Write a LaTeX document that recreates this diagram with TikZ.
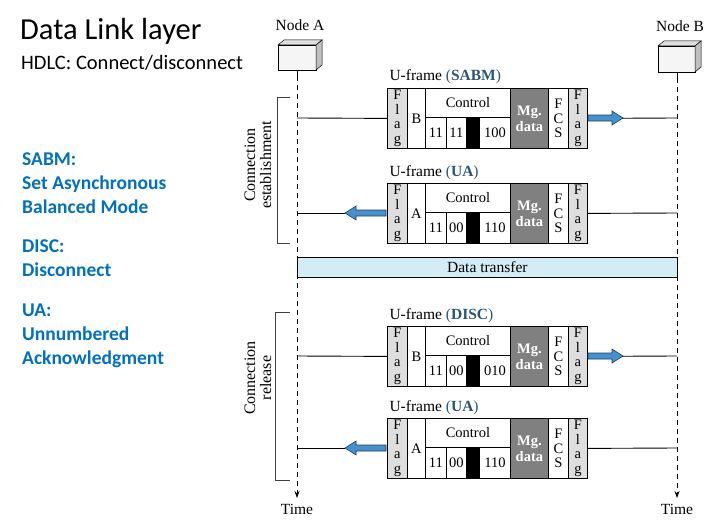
\documentclass[tikz,border=0pt]{standalone}
\usepackage{fontspec}
\setmainfont{Liberation Serif}
\newfontfamily\calfont{Carlito}
\usetikzlibrary{arrows.meta}
\definecolor{tblue}{RGB}{0,112,192}
\definecolor{fblue}{RGB}{40,85,120}
\definecolor{flaggray}{RGB}{222,222,222}
\definecolor{mggray}{RGB}{128,128,128}
\definecolor{arrfill}{RGB}{70,145,205}
\definecolor{arrline}{RGB}{30,60,100}
\definecolor{dtblue}{RGB}{212,236,246}
\newcommand\uframe[7]{%
  \node[lbl, anchor=base west] (#1-lbl) at (386,#2-7) {U-frame \textcolor{fblue}{(\textbf{#7})}};
  \node[fld, fill=flaggray, minimum width=20pt, minimum height=60pt] (#1-fl) at (387,#2) {F\\l\\a\\g};
  \node[fld, minimum width=18pt, minimum height=60pt] (#1-ad) at (407,#2) {#3};
  \node[fld, minimum width=85pt, minimum height=29pt] (#1-ct) at (425,#2) {Control};
  \node[fld, minimum width=21pt, minimum height=31pt] (#1-c1) at (425,#2+29) {#4};
  \node[fld, minimum width=20pt, minimum height=31pt] (#1-c2) at (446,#2+29) {#5};
  \node[fld, fill=black, minimum width=13pt, minimum height=31pt] (#1-bk) at (466,#2+29) {};
  \node[fld, fill=mggray, text=white, minimum width=38pt, minimum height=60pt, font=\bfseries\fontsize{14.5}{16}\selectfont] (#1-mg) at (510,#2) {Mg.\\data};
  \node[fld, minimum width=31pt, minimum height=31pt] (#1-c3) at (479,#2+29) {#6};
  \node[fld, minimum width=20pt, minimum height=60pt] (#1-fc) at (548,#2) {F\\C\\S};
  \node[fld, fill=flaggray, minimum width=19pt, minimum height=60pt] (#1-fr) at (568,#2) {F\\l\\a\\g};
}
\newcommand\rarrow[3]{%
  \filldraw[arrst] (#1,#3-3) -- (#2-11,#3-3) -- (#2-11,#3-7) -- (#2,#3) -- (#2-11,#3+7) -- (#2-11,#3+3) -- (#1,#3+3) -- cycle;}
\newcommand\larrow[3]{%
  \filldraw[arrst] (#1,#3-3) -- (#2+11,#3-3) -- (#2+11,#3-7) -- (#2,#3) -- (#2+11,#3+7) -- (#2+11,#3+3) -- (#1,#3+3) -- cycle;}
\begin{document}
\begin{tikzpicture}[x=1pt,y=-1pt,
  fld/.style={draw, thick, anchor=north west, inner sep=0pt, align=center, font=\fontsize{14.5}{14.5}\selectfont},
  lbl/.style={font=\fontsize{15.5}{17}\selectfont},
  arrst/.style={fill=arrfill, draw=arrline, line width=0.6pt},
  conn/.style={line width=0.9pt},
  bluetxt/.style={anchor=base west, text=tblue, font=\calfont\bfseries\fontsize{19.5}{21}\selectfont},
  dashline/.style={line width=0.7pt, dash pattern=on 5pt off 4pt, -{Stealth[length=7pt,width=5pt]}},
  timetxt/.style={font=\fontsize{15.5}{17}\selectfont},
  bracket/.style={line width=0.6pt, draw=black!75},
  rottxt/.style={rotate=90, align=center, font=\fontsize{16}{16}\selectfont}
]
\useasboundingbox (0,0) rectangle (720,527);
% titles
\node[anchor=base west, inner sep=0pt, font=\calfont\fontsize{30.5}{32}\selectfont] (title) at (20,40) {Data Link layer};
\node[anchor=base west, inner sep=0pt, font=\calfont\fontsize{20.5}{22}\selectfont] (subtitle) at (21,70) {HDLC: Connect/disconnect};
% left legend
\node[bluetxt, inner sep=0pt] (l1) at (22,165) {SABM:};
\node[bluetxt, inner sep=0pt] (l2) at (22,189) {Set Asynchronous};
\node[bluetxt, inner sep=0pt] (l3) at (22,213) {Balanced Mode};
\node[bluetxt, inner sep=0pt] (l4) at (22,252) {DISC:};
\node[bluetxt, inner sep=0pt] (l5) at (22,276) {Disconnect};
\node[bluetxt, inner sep=0pt] (l6) at (22,316) {UA:};
\node[bluetxt, inner sep=0pt] (l7) at (22,340) {Unnumbered};
\node[bluetxt, inner sep=0pt] (l8) at (22,364) {Acknowledgment};
% node boxes
\node[lbl, anchor=base] (nA) at (300,31) {Node A};
\filldraw[fill=gray!8, draw=black, line width=0.5pt] (278,45) rectangle (316,70);
\filldraw[fill=gray!25, draw=black, line width=0.5pt] (278,45) -- (284,40) -- (322,40) -- (316,45) -- cycle;
\filldraw[fill=gray!50, draw=black, line width=0.5pt] (316,45) -- (322,40) -- (322,65) -- (316,70) -- cycle;
\node[lbl, anchor=base] (nB) at (680,32) {Node B};
\filldraw[fill=gray!8, draw=black, line width=0.5pt] (658,46) rectangle (695,72);
\filldraw[fill=gray!25, draw=black, line width=0.5pt] (658,46) -- (664,41) -- (701,41) -- (695,46) -- cycle;
\filldraw[fill=gray!50, draw=black, line width=0.5pt] (695,46) -- (701,41) -- (701,67) -- (695,72) -- cycle;
% time lines
\coordinate (aT) at (297,70);
\coordinate (aD) at (297,76);
\coordinate (aE) at (297,498);
\coordinate (bT) at (677,72);
\coordinate (bD) at (677,78);
\coordinate (bE) at (677,498);
\draw[line width=0.7pt] (aT) -- (aD);
\draw[line width=0.7pt] (bT) -- (bD);
\draw[dashline] (aD) -- (aE);
\draw[dashline] (bD) -- (bE);
\node[timetxt, anchor=north] (tA) at (297,501) {Time};
\node[timetxt, anchor=north] (tB) at (677,501) {Time};
% brackets
\draw[bracket] (290,97) -- (277,97) -- (277,243) -- (290,243);
\node[rottxt] (ce) at (258,165) {Connection\\establishment};
\draw[bracket] (290,312) -- (275,312) -- (275,480) -- (290,480);
\node[rottxt] (cr) at (258,378) {Connection\\release};
% data transfer
\node[draw, line width=0.7pt, fill=dtblue, minimum width=380pt, minimum height=20pt, anchor=north west, inner sep=0pt, font=\fontsize{15.5}{17}\selectfont] (dt) at (297,257) {Data transfer};
% frames
\uframe{f1}{88}{B}{11}{11}{100}{SABM}
\uframe{f2}{183}{A}{11}{00}{110}{UA}
\uframe{f3}{326}{B}{11}{00}{010}{DISC}
\uframe{f4}{418}{A}{11}{00}{110}{UA}
% connectors
\coordinate (a1) at (297,118); \coordinate (b1) at (677,118);
\coordinate (a2) at (297,213); \coordinate (b2) at (677,213);
\coordinate (a3) at (297,356); \coordinate (b3) at (677,356);
\coordinate (a4) at (297,448); \coordinate (b4) at (677,448);
\coordinate (x2) at (345,213); \coordinate (x4) at (345,448);
\draw[conn] (a1) -- (f1-fl.west);
\draw[conn] (f1-fr.east) -- (b1);
\rarrow{588}{623}{118}
\draw[conn] (b2) -- (f2-fr.east);
\draw[conn] (x2) -- (a2);
\larrow{386}{345}{213}
\draw[conn] (a3) -- (f3-fl.west);
\draw[conn] (f3-fr.east) -- (b3);
\rarrow{588}{623}{356}
\draw[conn] (b4) -- (f4-fr.east);
\draw[conn] (x4) -- (a4);
\larrow{386}{345}{448}
\end{tikzpicture}
\end{document}
